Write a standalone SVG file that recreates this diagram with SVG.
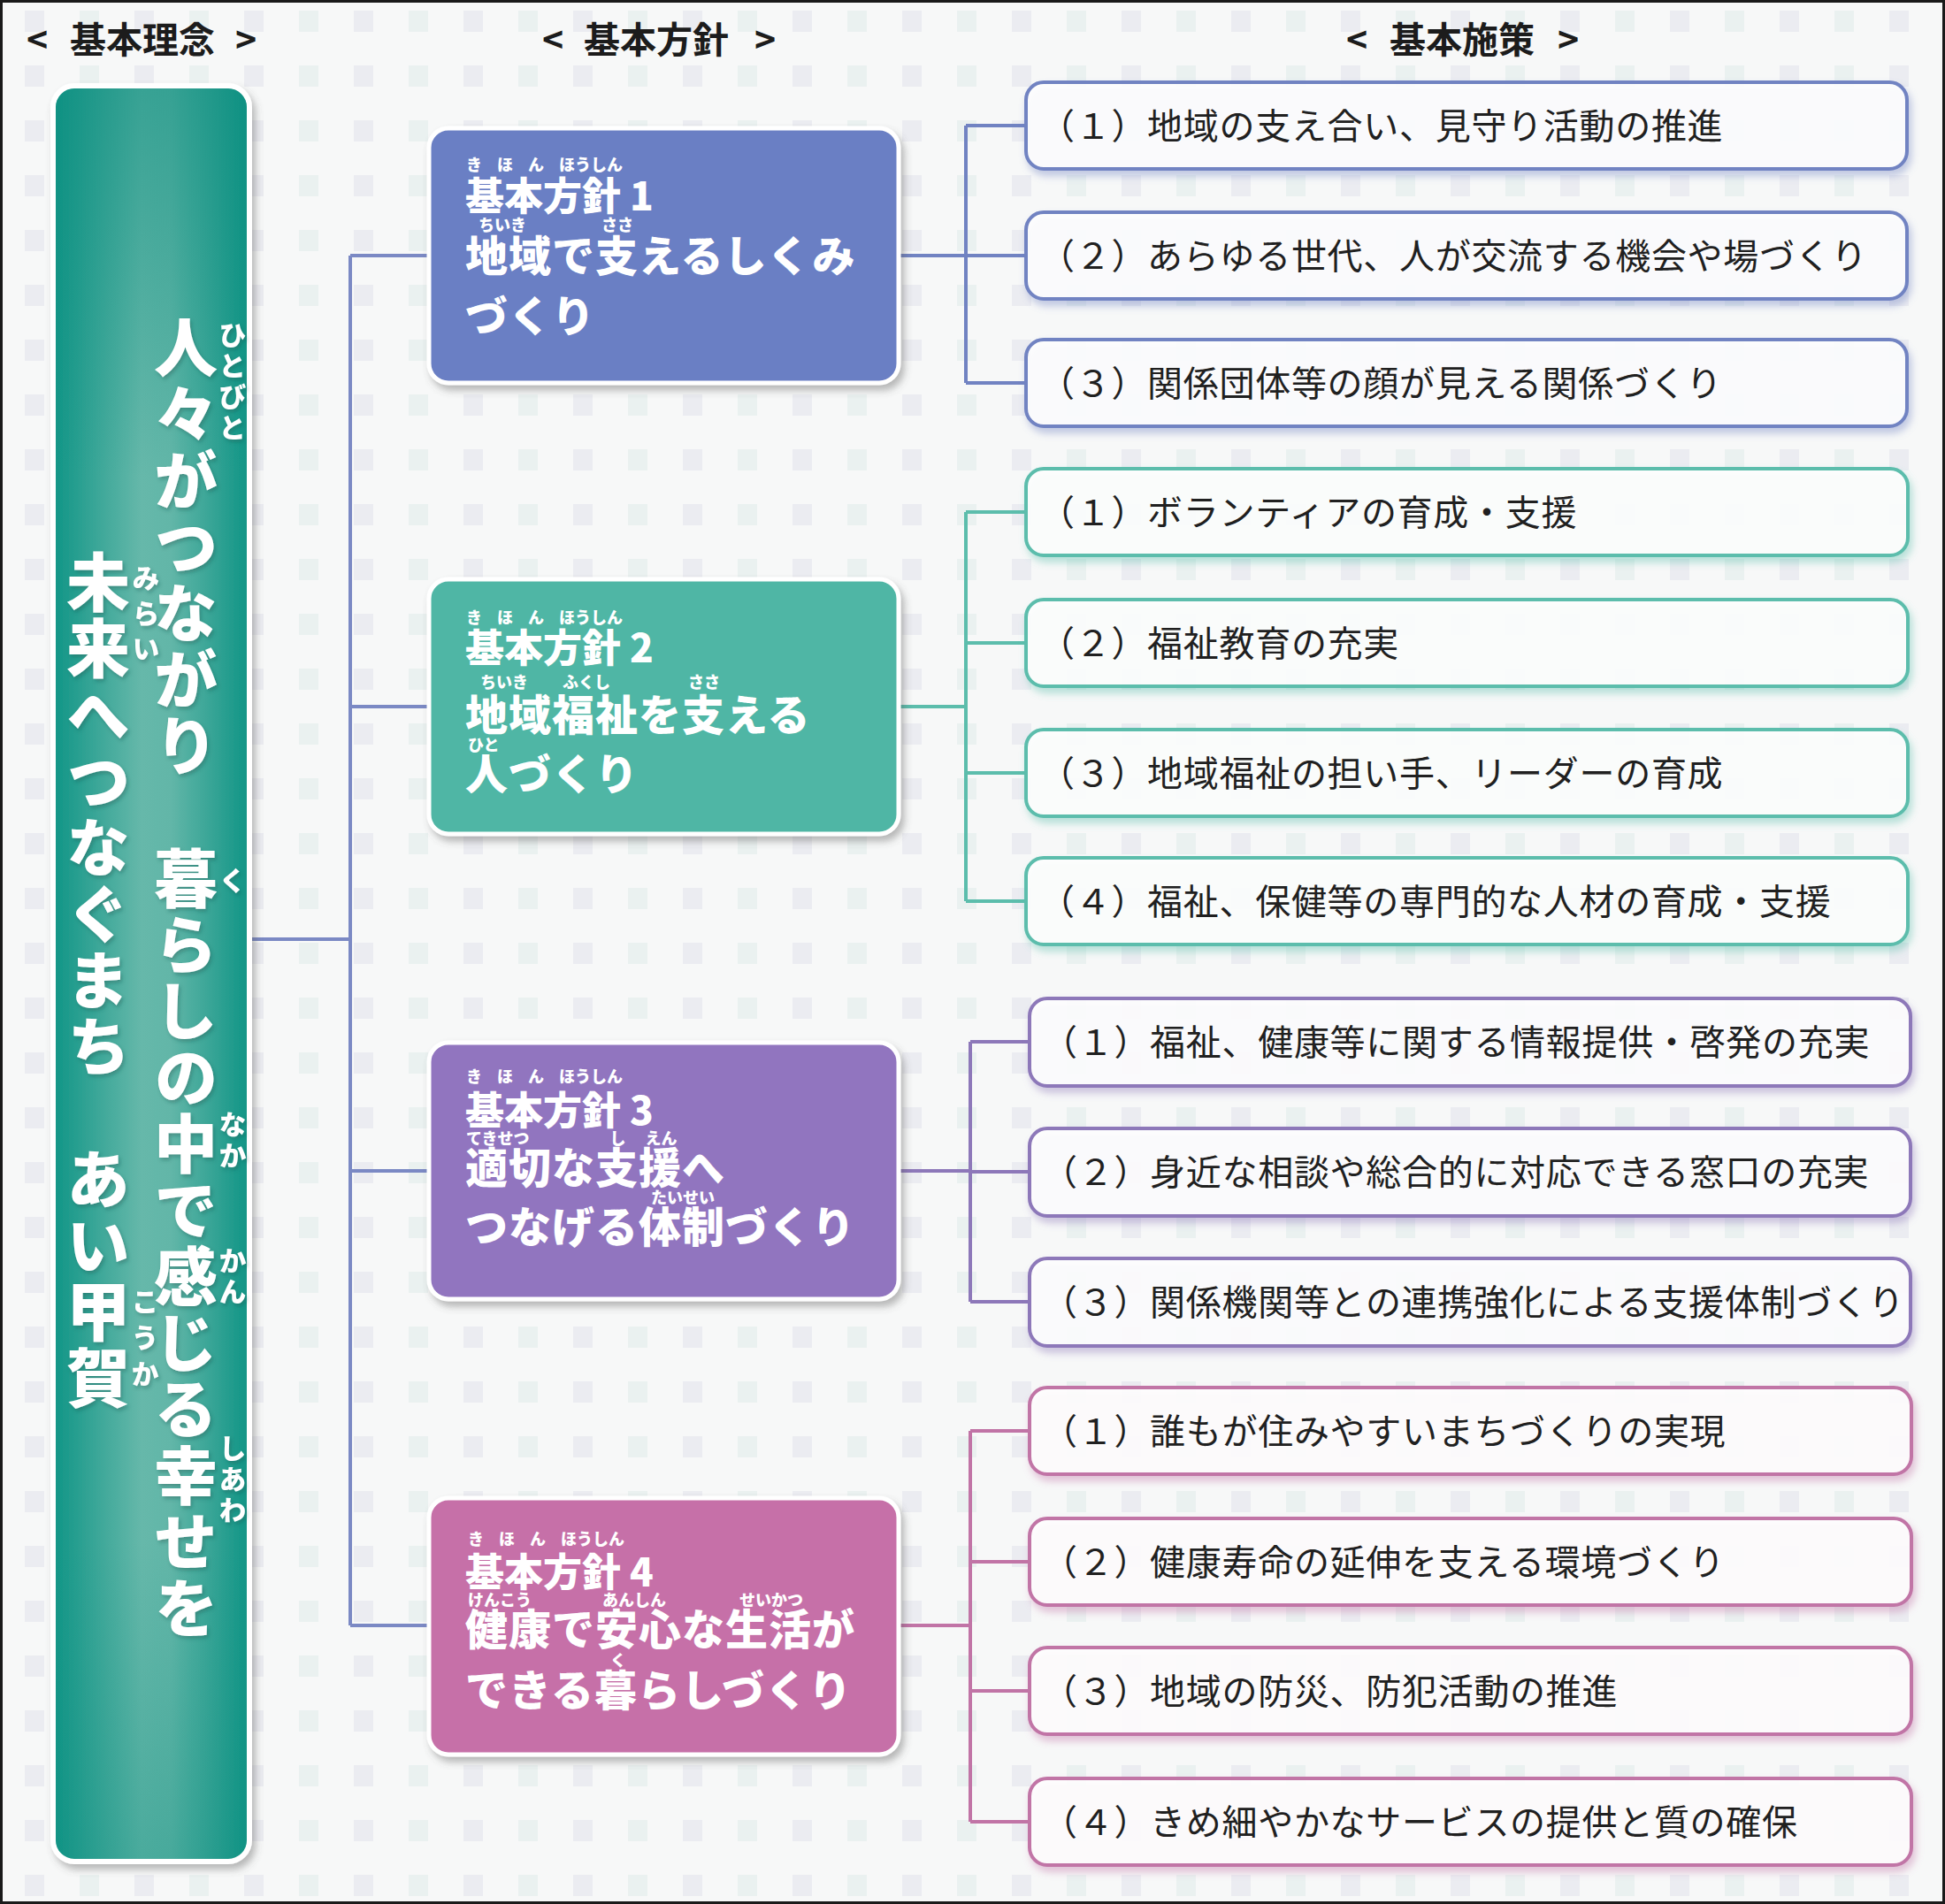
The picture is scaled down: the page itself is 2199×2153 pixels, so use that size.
<svg xmlns="http://www.w3.org/2000/svg" width="2199" height="2153" viewBox="0 0 2199 2153">
<style>
.hdr{font-family:"Noto Sans CJK JP","Noto Sans CJK SC",sans-serif;font-weight:700;font-size:41px;fill:#1c1c1c}
.vt{font-family:"Noto Sans CJK JP","Noto Sans CJK SC",sans-serif;font-weight:900;fill:#fff;writing-mode:vertical-rl;text-orientation:upright}
.vmain{font-size:72px;letter-spacing:3px}
.vruby{font-size:31px}
.pt{font-family:"Noto Sans CJK JP","Noto Sans CJK SC",sans-serif;font-weight:900;fill:#fff}
.ph{font-size:44px}
.pm{font-size:48px;letter-spacing:1px}
.pr{font-size:18px}
.mt{font-family:"Noto Sans CJK JP","Noto Sans CJK SC",sans-serif;font-weight:400;font-size:40px;letter-spacing:0.7px;fill:#202020}
.mb{fill:#ffffff;fill-opacity:0.88;stroke-width:4}
.g1{stroke:#7183c2}.g2{stroke:#5cbdac}.g3{stroke:#8d78b9}.g4{stroke:#c174a6}
.ln{fill:none;stroke-width:4}
.trunk{stroke:#7b89c4}
.pbox{stroke:#fff;stroke-width:5}
</style>
<defs>
<pattern id="bgp" x="0" y="12" width="124" height="62" patternUnits="userSpaceOnUse">
<rect x="28" y="0" width="22" height="24" fill="#dcdfe9" opacity="0.45"/>
<rect x="90" y="0" width="22" height="24" fill="#d8e6e4" opacity="0.4"/>
</pattern>
<linearGradient id="lg" x1="0" y1="0" x2="1" y2="0">
<stop offset="0" stop-color="#109586"/>
<stop offset="0.45" stop-color="#66b8aa"/>
<stop offset="0.6" stop-color="#62b6a8"/>
<stop offset="1" stop-color="#0f9485"/>
</linearGradient>
<linearGradient id="lgv" x1="0" y1="0" x2="0" y2="1">
<stop offset="0" stop-color="#0a8c7e" stop-opacity="0.5"/>
<stop offset="0.22" stop-color="#0a8c7e" stop-opacity="0"/>
<stop offset="0.82" stop-color="#0a8c7e" stop-opacity="0"/>
<stop offset="1" stop-color="#0a8c7e" stop-opacity="0.3"/>
</linearGradient>
<filter id="sh" x="-10%" y="-10%" width="125%" height="125%">
<feDropShadow dx="4" dy="6" stdDeviation="4" flood-color="#555" flood-opacity="0.4"/>
</filter>
<filter id="ts" x="-10%" y="-10%" width="130%" height="130%">
<feDropShadow dx="2" dy="3" stdDeviation="2" flood-color="#1a4f48" flood-opacity="0.35"/>
</filter>
<filter id="s1" x="-5%" y="-20%" width="112%" height="150%"><feDropShadow dx="3" dy="6" stdDeviation="4" flood-color="#7183c2" flood-opacity="0.45"/></filter>
<filter id="s2" x="-5%" y="-20%" width="112%" height="150%"><feDropShadow dx="3" dy="6" stdDeviation="4" flood-color="#5cbdac" flood-opacity="0.45"/></filter>
<filter id="s3" x="-5%" y="-20%" width="112%" height="150%"><feDropShadow dx="3" dy="6" stdDeviation="4" flood-color="#8d78b9" flood-opacity="0.45"/></filter>
<filter id="s4" x="-5%" y="-20%" width="112%" height="150%"><feDropShadow dx="3" dy="6" stdDeviation="4" flood-color="#c174a6" flood-opacity="0.45"/></filter>
</defs>

<rect x="0" y="0" width="2199" height="2153" fill="#f7f8f8"/>
<rect x="0" y="0" width="2199" height="2153" fill="url(#bgp)"/>
<rect x="1.5" y="1.5" width="2196" height="2150" fill="none" stroke="#1a1a1a" stroke-width="3"/>

<g id="headers">
<text class="hdr" x="30" y="60" dx="0 0 0 0 0 0 0 0">&lt;<tspan x="79">基本理念</tspan><tspan x="266">&gt;</tspan></text>
<text class="hdr" x="613" y="60">&lt;<tspan x="660">基本方針</tspan><tspan x="853">&gt;</tspan></text>
<text class="hdr" x="1522" y="60">&lt;<tspan x="1571">基本施策</tspan><tspan x="1761">&gt;</tspan></text>
</g>

<g id="connectors">
<path class="ln trunk" d="M282 1062H396M396 289V1838M396 289H484M396 799H484M396 1324H484M396 1838H484"/>
<path class="ln g1" d="M1016 289H1092M1092 142V433M1092 142H1160M1092 433H1160M1092 289H1160"/>
<path class="ln g2" d="M1016 799H1092M1092 579V1019M1092 579H1160M1092 727H1160M1092 874H1160M1092 1019H1160"/>
<path class="ln g3" d="M1016 1324H1097M1097 1178V1472M1097 1178H1164M1097 1325H1164M1097 1472H1164"/>
<path class="ln g4" d="M1016 1838H1097M1097 1618V2060M1097 1618H1164M1097 1766H1164M1097 1912H1164M1097 2060H1164"/>
</g>

<g id="rinen">
<rect x="60" y="97" width="222" height="2008" rx="24" fill="url(#lg)" stroke="#fff" stroke-width="6" filter="url(#sh)"/>
<rect x="63" y="100" width="216" height="2002" rx="22" fill="url(#lgv)"/>
<g filter="url(#ts)">
<text class="vt vmain" x="210" y="357">人々がつながり　暮らしの中で感じる幸せを</text>
<text class="vt vmain" x="111" y="622">未来へつなぐまち　あい甲賀</text>
<text class="vt vruby" x="263" y="363" style="letter-spacing:4px">ひとびと</text>
<text class="vt vruby" x="263" y="980">く</text>
<text class="vt vruby" x="263" y="1256" style="letter-spacing:4px">なか</text>
<text class="vt vruby" x="263" y="1410" style="letter-spacing:4px">かん</text>
<text class="vt vruby" x="263" y="1622" style="letter-spacing:4px">しあわ</text>
<text class="vt vruby" x="165" y="638" style="letter-spacing:9px">みらい</text>
<text class="vt vruby" x="164" y="1456" style="letter-spacing:10px">こうか</text>
</g>
</g>

<g id="policy1">
<rect x="485" y="145" width="531" height="288" rx="22" fill="#6b7fc4" class="pbox" filter="url(#sh)"/>
<text class="pt pr" x="527" y="193" dx="0 17 17 17 0 0 0">きほんほうしん</text>
<text class="pt ph" x="526" y="238">基本方針 1</text>
<text class="pt pr" x="541" y="261" dx="0 0 0 85 0">ちいきささ</text>
<text class="pt pm" x="526" y="307">地域で支えるしくみ</text>
<text class="pt pm" x="526" y="375">づくり</text>
</g>

<g id="policy2">
<rect x="485" y="655" width="531" height="288" rx="22" fill="#50b6a5" class="pbox" filter="url(#sh)"/>
<text class="pt pr" x="527" y="705" dx="0 17 17 17 0 0 0">きほんほうしん</text>
<text class="pt ph" x="526" y="749">基本方針 2</text>
<text class="pt pr" x="543" y="778" dx="0 0 0 39 0 0 88 0">ちいきふくしささ</text>
<text class="pt pm" x="526" y="826">地域福祉を支える</text>
<text class="pt pr" x="529" y="849">ひと</text>
<text class="pt pm" x="526" y="893">人づくり</text>
</g>

<g id="policy3">
<rect x="485" y="1179" width="531" height="290" rx="22" fill="#9174bf" class="pbox" filter="url(#sh)"/>
<text class="pt pr" x="527" y="1224" dx="0 17 17 17 0 0 0">きほんほうしん</text>
<text class="pt ph" x="526" y="1272">基本方針 3</text>
<text class="pt pr" x="527" y="1294" dx="0 0 0 0 91 22 0">てきせつしえん</text>
<text class="pt pm" x="526" y="1338">適切な支援へ</text>
<text class="pt pr" x="736" y="1361">たいせい</text>
<text class="pt pm" x="526" y="1405">つなげる体制づくり</text>
</g>

<g id="policy4">
<rect x="485" y="1694" width="531" height="290" rx="22" fill="#c66fa8" class="pbox" filter="url(#sh)"/>
<text class="pt pr" x="529" y="1747" dx="0 17 17 17 0 0 0">きほんほうしん</text>
<text class="pt ph" x="526" y="1794">基本方針 4</text>
<text class="pt pr" x="529" y="1816" dx="0 0 0 0 80 0 0 0 83 0 0 0">けんこうあんしんせいかつ</text>
<text class="pt pm" x="526" y="1860">健康で安心な生活が</text>
<text class="pt pr" x="690" y="1884">く</text>
<text class="pt pm" x="526" y="1929">できる暮らしづくり</text>
</g>

<g id="m1-1"><rect class="mb g1" x="1160" y="93" width="996" height="98" rx="20" filter="url(#s1)"/><text class="mt" x="1175" y="157">（１）地域の支え合い、見守り活動の推進</text></g>
<g id="m1-2"><rect class="mb g1" x="1160" y="240" width="996" height="98" rx="20" filter="url(#s1)"/><text class="mt" x="1175" y="304">（２）あらゆる世代、人が交流する機会や場づくり</text></g>
<g id="m1-3"><rect class="mb g1" x="1160" y="384" width="996" height="98" rx="20" filter="url(#s1)"/><text class="mt" x="1175" y="448">（３）関係団体等の顔が見える関係づくり</text></g>

<g id="m2-1"><rect class="mb g2" x="1160" y="530" width="997" height="98" rx="20" filter="url(#s2)"/><text class="mt" x="1175" y="594">（１）ボランティアの育成・支援</text></g>
<g id="m2-2"><rect class="mb g2" x="1160" y="678" width="997" height="98" rx="20" filter="url(#s2)"/><text class="mt" x="1175" y="742">（２）福祉教育の充実</text></g>
<g id="m2-3"><rect class="mb g2" x="1160" y="825" width="997" height="98" rx="20" filter="url(#s2)"/><text class="mt" x="1175" y="889">（３）地域福祉の担い手、リーダーの育成</text></g>
<g id="m2-4"><rect class="mb g2" x="1160" y="970" width="997" height="98" rx="20" filter="url(#s2)"/><text class="mt" x="1175" y="1034">（４）福祉、保健等の専門的な人材の育成・支援</text></g>

<g id="m3-1"><rect class="mb g3" x="1164" y="1129" width="996" height="99" rx="20" filter="url(#s3)"/><text class="mt" x="1178" y="1193">（１）福祉、健康等に関する情報提供・啓発の充実</text></g>
<g id="m3-2"><rect class="mb g3" x="1164" y="1276" width="996" height="99" rx="20" filter="url(#s3)"/><text class="mt" x="1178" y="1340">（２）身近な相談や総合的に対応できる窓口の充実</text></g>
<g id="m3-3"><rect class="mb g3" x="1164" y="1423" width="996" height="99" rx="20" filter="url(#s3)"/><text class="mt" x="1178" y="1487">（３）関係機関等との連携強化による支援体制づくり</text></g>

<g id="m4-1"><rect class="mb g4" x="1164" y="1569" width="997" height="98" rx="20" filter="url(#s4)"/><text class="mt" x="1178" y="1633">（１）誰もが住みやすいまちづくりの実現</text></g>
<g id="m4-2"><rect class="mb g4" x="1164" y="1717" width="997" height="98" rx="20" filter="url(#s4)"/><text class="mt" x="1178" y="1781">（２）健康寿命の延伸を支える環境づくり</text></g>
<g id="m4-3"><rect class="mb g4" x="1164" y="1863" width="997" height="98" rx="20" filter="url(#s4)"/><text class="mt" x="1178" y="1927">（３）地域の防災、防犯活動の推進</text></g>
<g id="m4-4"><rect class="mb g4" x="1164" y="2011" width="997" height="98" rx="20" filter="url(#s4)"/><text class="mt" x="1178" y="2075">（４）きめ細やかなサービスの提供と質の確保</text></g>
</svg>
